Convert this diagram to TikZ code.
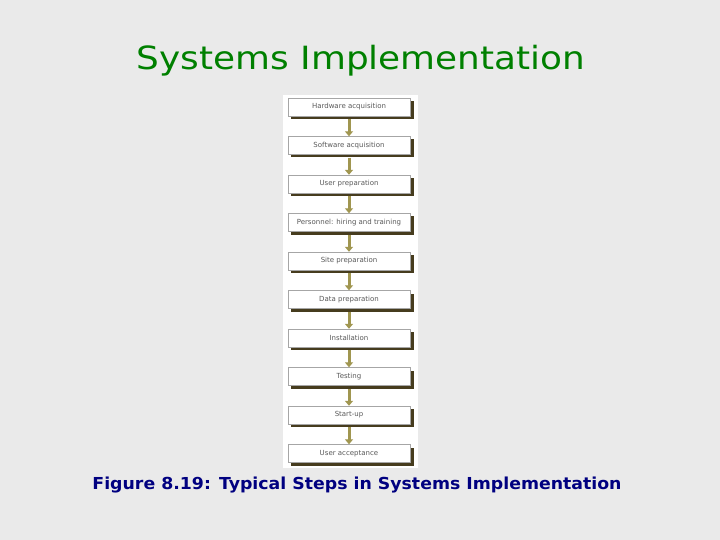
\documentclass[tikz,border=0pt]{standalone}
\usepackage{fontspec}
\setmainfont{DejaVu Sans}
\usetikzlibrary{arrows.meta}
\definecolor{bg}{RGB}{234,234,234}
\definecolor{ttl}{RGB}{0,128,0}
\definecolor{cap}{RGB}{0,0,128}
\definecolor{shd}{RGB}{70,60,30}
\definecolor{arr}{RGB}{160,150,80}
\begin{document}
\begin{tikzpicture}[x=1pt,y=-1pt,
  stepbox/.style={draw=gray!70,fill=white,minimum width=122pt,minimum height=18pt,inner sep=0pt,
    font=\fontsize{7}{8}\selectfont\color{gray!70!black}},
  ]
\useasboundingbox (0,0) rectangle (720,540);
\fill[bg] (0,0) rectangle (720,540);
\node[text=ttl,font=\fontsize{32}{36}\selectfont,xscale=1.12] (title) at (361,61) {Systems Implementation};
\fill[white] (283,95) rectangle (418,468);
\foreach \t [count=\i] in {Hardware acquisition,Software acquisition,User preparation,Personnel: hiring and training,Site preparation,Data preparation,Installation,Testing,Start-up,User acceptance}{
  \pgfmathsetmacro\yy{107+(\i-1)*38.5}
  \fill[shd] (291,\yy-6) rectangle (414,\yy+12);
  \node[stepbox] (b\i) at (349,\yy) {\t};
}
\foreach \i [evaluate=\i as \j using int(\i+1)] in {1,...,9}{
  \draw[arr,line width=3pt,-{Triangle[length=5pt,width=8pt]}] ([yshift=-3pt]b\i.south) -- (b\j.north);
}
\node[text=cap,font=\bfseries\fontsize{16.5}{19}\selectfont,xscale=1.05] (caption) at (357,485) {Figure 8.19: Typical Steps in Systems Implementation};
\end{tikzpicture}
\end{document}
